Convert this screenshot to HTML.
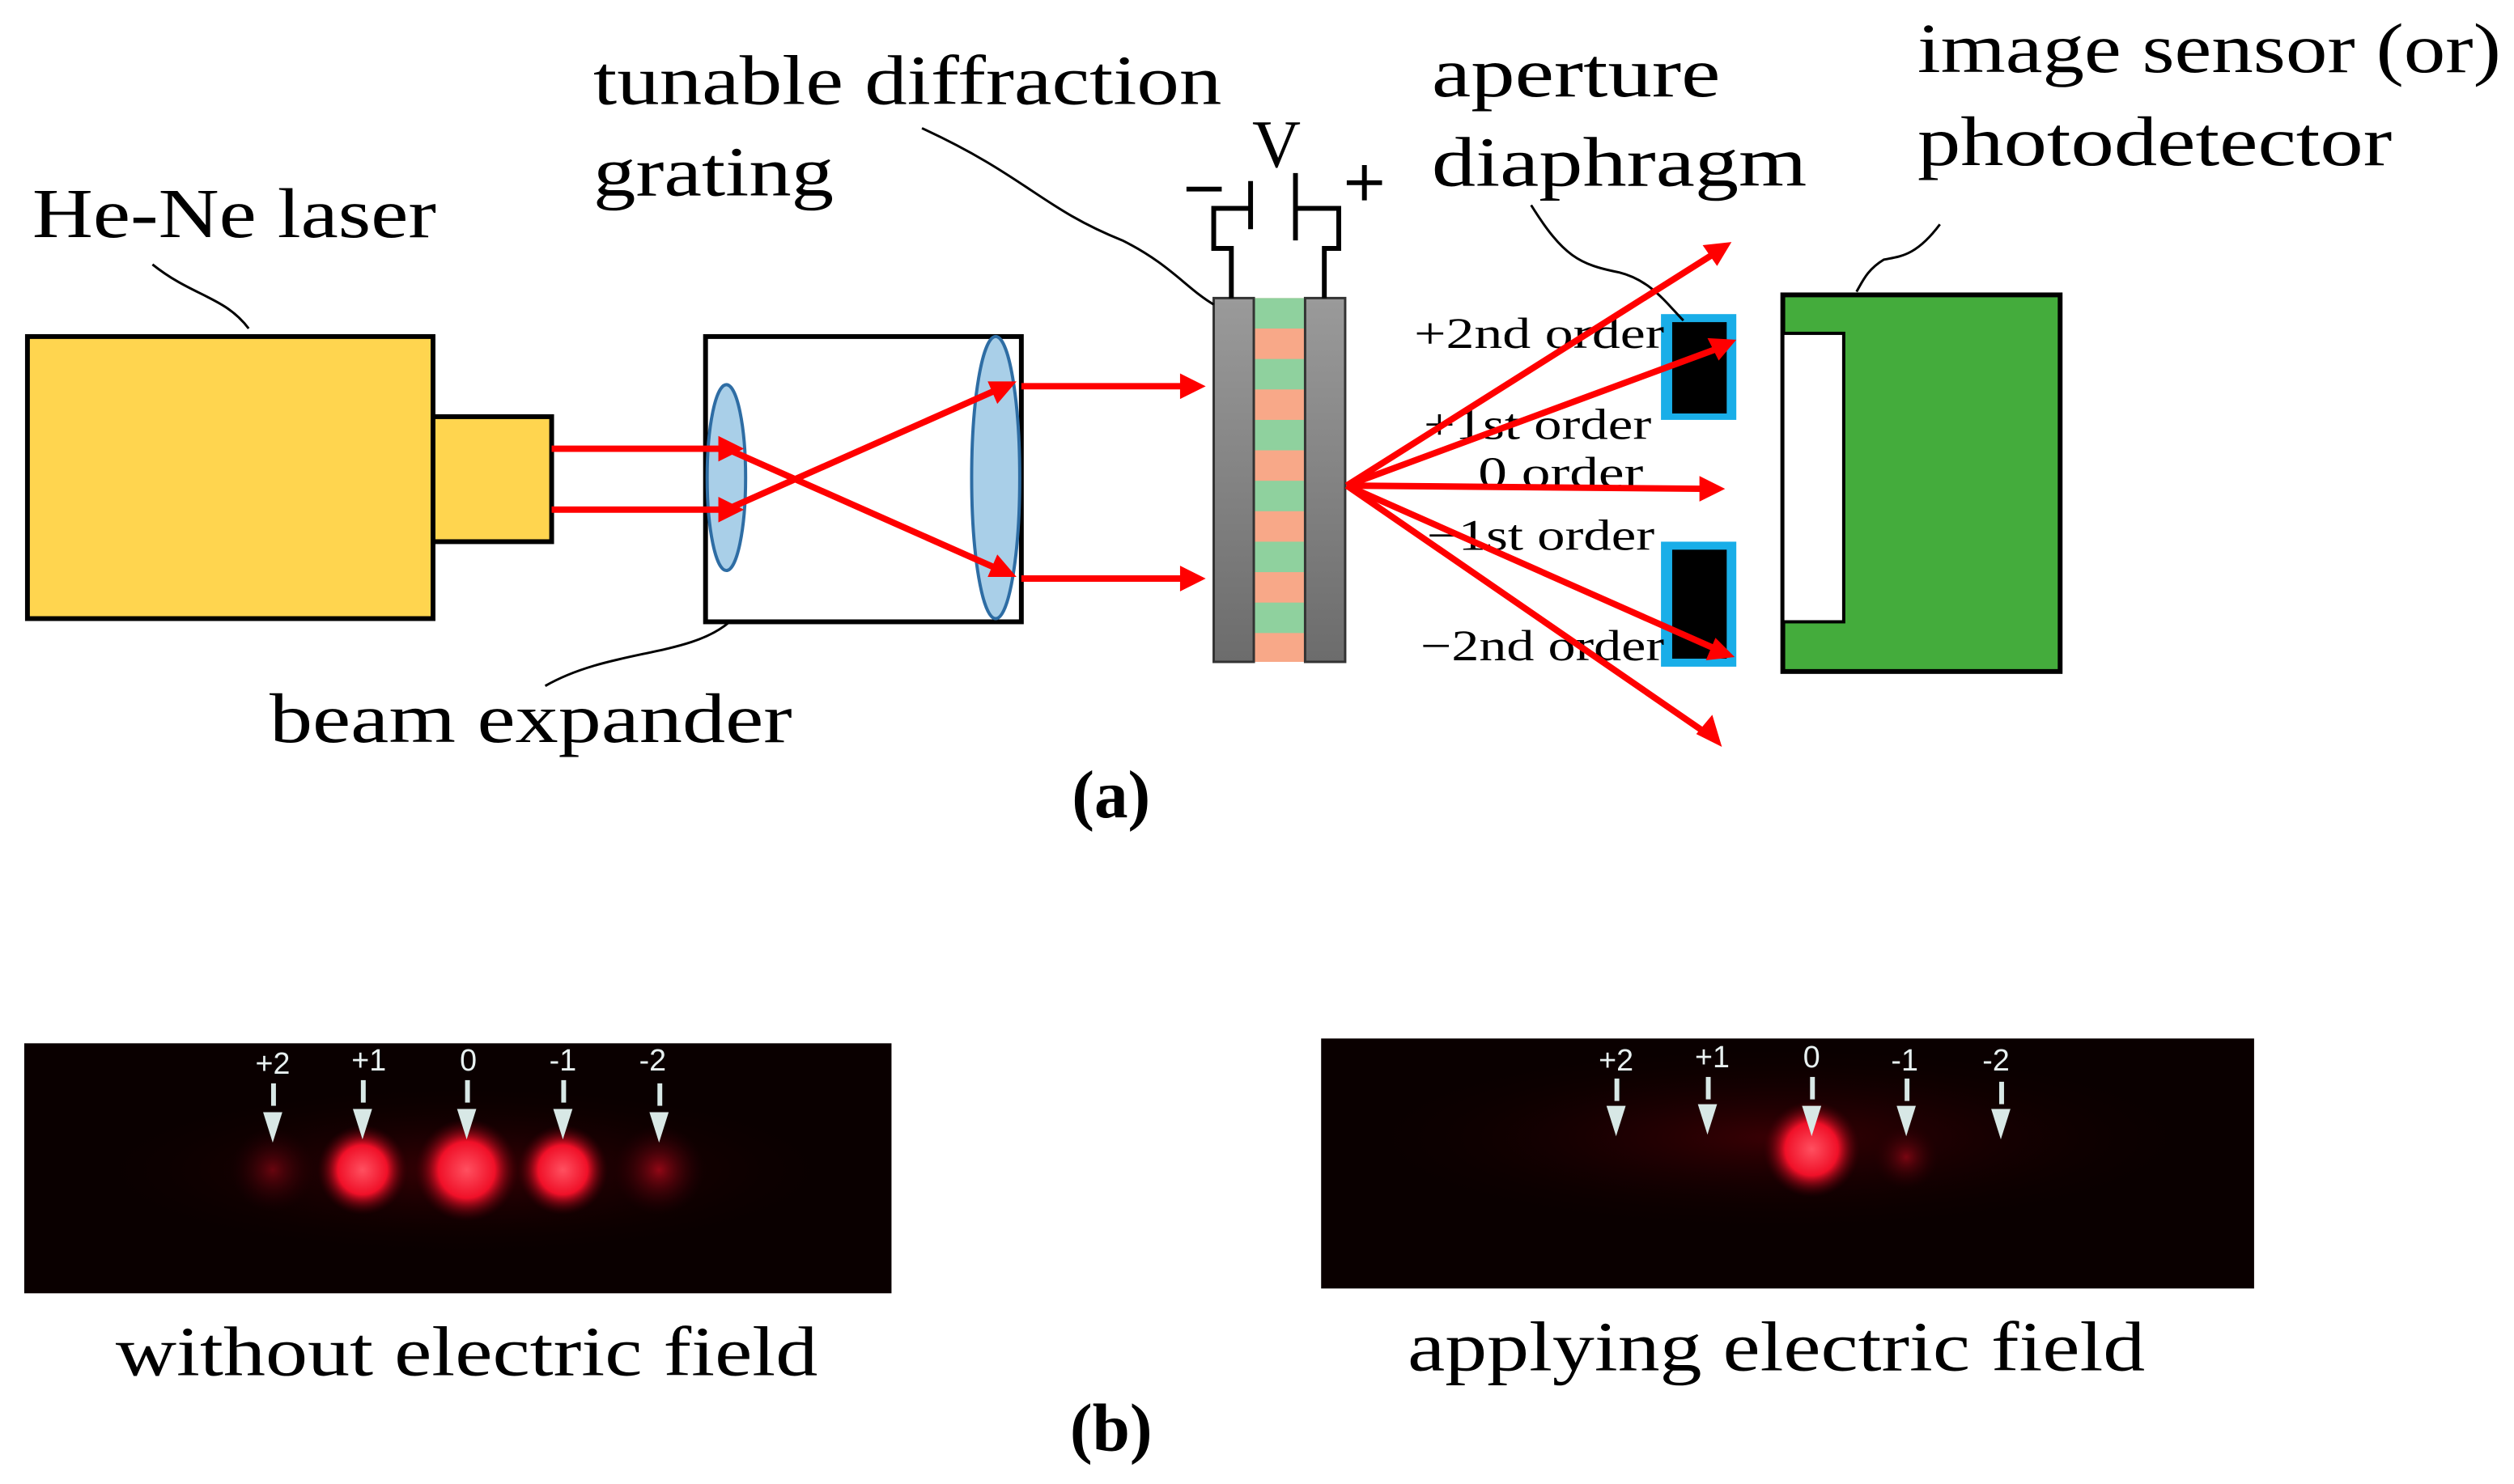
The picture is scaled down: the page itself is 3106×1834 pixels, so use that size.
<!DOCTYPE html>
<html><head><meta charset="utf-8"><style>
html,body{margin:0;padding:0;background:#fff;}
svg{display:block;}
text{font-family:"Liberation Serif",serif;fill:#000;}
.t{font-size:44px;}
.o{font-size:27px;}
.w{font-family:"Liberation Sans",sans-serif;fill:#e8f0f0;font-size:19px;}
</style></head><body>
<svg width="3106" height="1834" viewBox="0 0 1568 926" xmlns="http://www.w3.org/2000/svg">
<defs>
<linearGradient id="gr" x1="0" x2="0" y1="0" y2="1"><stop offset="0" stop-color="#9a9a9a"/><stop offset="1" stop-color="#6c6c6c"/></linearGradient>
<radialGradient id="sp"><stop offset="0" stop-color="#ff5060"/><stop offset="0.55" stop-color="#f01028"/><stop offset="1" stop-color="#500008" stop-opacity="0"/></radialGradient>
<radialGradient id="sf"><stop offset="0" stop-color="#a00818"/><stop offset="1" stop-color="#300004" stop-opacity="0"/></radialGradient>
<radialGradient id="glow"><stop offset="0" stop-color="#3a0004"/><stop offset="1" stop-color="#0a0000" stop-opacity="0"/></radialGradient>
</defs>

<!-- laser -->
<rect x="17" y="210" width="253" height="176" fill="#FFD54F" stroke="#000" stroke-width="3"/>
<rect x="270" y="260" width="74" height="78" fill="#FFD54F" stroke="#000" stroke-width="3"/>
<text class="t" x="20" y="148" textLength="252" lengthAdjust="spacingAndGlyphs">He-Ne laser</text>
<path d="M155,205 C140,185 120,185 95,165" fill="none" stroke="#000" stroke-width="1.5"/>

<!-- beam expander -->
<rect x="440" y="210" width="197" height="178" fill="#fff" stroke="#000" stroke-width="3"/>
<ellipse cx="453" cy="298" rx="12" ry="58" fill="#A9CFE8" stroke="#2E6DA4" stroke-width="2"/>
<ellipse cx="621" cy="298" rx="15" ry="88" fill="#A9CFE8" stroke="#2E6DA4" stroke-width="2"/>
<text class="t" x="168" y="463" textLength="326" lengthAdjust="spacingAndGlyphs">beam expander</text>
<path d="M455,388 C430,410 380,405 340,428" fill="none" stroke="#000" stroke-width="1.5"/>

<!-- grating -->
<g>
<rect x="782" y="186" width="32" height="227" fill="#f8a888"/>
<rect x="782" y="186" width="32" height="19" fill="#8fd19e"/>
<rect x="782" y="224" width="32" height="19" fill="#8fd19e"/>
<rect x="782" y="262" width="32" height="19" fill="#8fd19e"/>
<rect x="782" y="300" width="32" height="19" fill="#8fd19e"/>
<rect x="782" y="338" width="32" height="19" fill="#8fd19e"/>
<rect x="782" y="376" width="32" height="19" fill="#8fd19e"/>
<rect x="757" y="186" width="25" height="227" fill="url(#gr)" stroke="#333" stroke-width="1.5"/>
<rect x="814" y="186" width="25" height="227" fill="url(#gr)" stroke="#333" stroke-width="1.5"/>
</g>
<g stroke="#000" stroke-width="3" fill="none">
<polyline points="768,186 768,155 757,155 757,130 780,130"/>
<line x1="780" y1="113" x2="780" y2="143"/>
<line x1="808" y1="108" x2="808" y2="150"/>
<polyline points="808,130 835,130 835,155 826,155 826,186"/>
<line x1="740" y1="118" x2="762" y2="118"/>
<line x1="840" y1="114" x2="862" y2="114"/>
<line x1="851" y1="103" x2="851" y2="125"/>
</g>
<text x="781" y="104" style="font-size:42px">V</text>
<text class="t" x="370" y="65" textLength="392" lengthAdjust="spacingAndGlyphs">tunable diffraction</text>
<text class="t" x="370" y="122" textLength="150" lengthAdjust="spacingAndGlyphs">grating</text>
<path d="M575,80 C640,110 650,130 700,150 C730,165 740,180 757,190" fill="none" stroke="#000" stroke-width="1.5"/>

<!-- apertures -->
<rect x="1036" y="196" width="47" height="66" fill="#19aee8"/>
<rect x="1043" y="201" width="34" height="57" fill="#000"/>
<rect x="1036" y="338" width="47" height="78" fill="#19aee8"/>
<rect x="1043" y="343" width="34" height="68" fill="#000"/>
<text class="t" x="893" y="60" textLength="180" lengthAdjust="spacingAndGlyphs">aperture</text>
<text class="t" x="893" y="116" textLength="234" lengthAdjust="spacingAndGlyphs">diaphragm</text>
<path d="M955,128 C975,160 985,165 1010,170 C1030,175 1040,190 1050,200" fill="none" stroke="#000" stroke-width="1.5"/>

<text class="o" x="882" y="217" textLength="156" lengthAdjust="spacingAndGlyphs">+2nd order</text>
<text class="o" x="888" y="274" textLength="142" lengthAdjust="spacingAndGlyphs">+1st order</text>
<text class="o" x="922" y="304" textLength="103" lengthAdjust="spacingAndGlyphs">0 order</text>
<text class="o" x="890" y="343" textLength="142" lengthAdjust="spacingAndGlyphs">−1st order</text>
<text class="o" x="886" y="412" textLength="152" lengthAdjust="spacingAndGlyphs">−2nd order</text>

<!-- sensor -->
<rect x="1112" y="184" width="173" height="235" fill="#44AC3C" stroke="#000" stroke-width="3"/>
<rect x="1112" y="208" width="38" height="180" fill="#fff" stroke="#000" stroke-width="2"/>
<text class="t" x="1196" y="45" textLength="364" lengthAdjust="spacingAndGlyphs">image sensor (or)</text>
<text class="t" x="1196" y="103" textLength="296" lengthAdjust="spacingAndGlyphs">photodetector</text>
<path d="M1210,140 C1195,160 1185,160 1175,162 C1165,168 1162,175 1158,182" fill="none" stroke="#000" stroke-width="1.5"/>

<!-- rays -->
<g stroke="#f00" stroke-width="4" fill="none">
<line x1="344" y1="280" x2="450" y2="280"/>
<line x1="344" y1="318" x2="450" y2="318"/>
<line x1="453" y1="280" x2="620" y2="354"/>
<line x1="453" y1="318" x2="620" y2="244"/>
<line x1="637" y1="241" x2="738" y2="241"/>
<line x1="637" y1="361" x2="738" y2="361"/>
<line x1="840" y1="303" x2="1068" y2="159"/>
<line x1="840" y1="303" x2="1070" y2="218"/>
<line x1="840" y1="303" x2="1062" y2="305"/>
<line x1="840" y1="303" x2="1068" y2="404"/>
<line x1="840" y1="303" x2="1062" y2="456"/>
</g>
<g fill="#f00">
<polygon points="464,280 448,272 448,288"/>
<polygon points="464,318 448,310 448,326"/>
<polygon points="634,360 616,360 622,346"/>
<polygon points="634,238 616,238 622,252"/>
<polygon points="752,241 736,233 736,249"/>
<polygon points="752,361 736,353 736,369"/>
<polygon points="1080,151 1062,153 1071,166"/>
<polygon points="1083,212 1065,211 1072,225"/>
<polygon points="1076,305 1060,297 1060,313"/>
<polygon points="1082,410 1070,398 1064,412"/>
<polygon points="1074,466 1058,458 1068,446"/>
</g>

<text x="693" y="510" text-anchor="middle" style="font-size:42px;font-weight:bold">(a)</text>

<!-- photo left -->
<rect x="15" y="651" width="541" height="156" fill="#0a0000"/>
<ellipse cx="290" cy="730" rx="240" ry="55" fill="url(#glow)"/>
<circle cx="170" cy="730" r="26" fill="url(#sf)" opacity="0.6"/>
<circle cx="226" cy="730" r="28" fill="url(#sp)"/>
<circle cx="291" cy="730" r="32" fill="url(#sp)"/>
<circle cx="351" cy="730" r="28" fill="url(#sp)"/>
<circle cx="411" cy="730" r="28" fill="url(#sf)" opacity="0.9"/>
<text class="w" x="170" y="670" text-anchor="middle">+2</text>
<text class="w" x="230" y="668" text-anchor="middle">+1</text>
<text class="w" x="292" y="668" text-anchor="middle">0</text>
<text class="w" x="351" y="668" text-anchor="middle">-1</text>
<text class="w" x="407" y="668" text-anchor="middle">-2</text>
<g fill="#d8e8e6">
<rect x="169" y="676" width="3" height="14"/><polygon points="164,694 176,694 170,713"/>
<rect x="225" y="674" width="3" height="14"/><polygon points="220,692 232,692 226,711"/>
<rect x="290" y="674" width="3" height="14"/><polygon points="285,692 297,692 291,711"/>
<rect x="350" y="674" width="3" height="14"/><polygon points="345,692 357,692 351,711"/>
<rect x="410" y="676" width="3" height="14"/><polygon points="405,694 417,694 411,713"/>
</g>
<text class="t" x="72" y="858" textLength="438" lengthAdjust="spacingAndGlyphs">without electric field</text>

<!-- photo right -->
<rect x="824" y="648" width="582" height="156" fill="#0a0000"/>
<ellipse cx="1110" cy="710" rx="270" ry="60" fill="url(#glow)"/>
<circle cx="1189" cy="722" r="20" fill="url(#sf)" opacity="0.7"/>
<circle cx="1130" cy="717" r="30" fill="url(#sp)"/>
<text class="w" x="1008" y="668" text-anchor="middle">+2</text>
<text class="w" x="1068" y="666" text-anchor="middle">+1</text>
<text class="w" x="1130" y="666" text-anchor="middle">0</text>
<text class="w" x="1188" y="668" text-anchor="middle">-1</text>
<text class="w" x="1245" y="668" text-anchor="middle">-2</text>
<g fill="#d8e8e6">
<rect x="1007" y="673" width="3" height="14"/><polygon points="1002,690 1014,690 1008,709"/>
<rect x="1064" y="672" width="3" height="14"/><polygon points="1059,689 1071,689 1065,708"/>
<rect x="1129" y="672" width="3" height="14"/><polygon points="1124,690 1136,690 1130,709"/>
<rect x="1188" y="673" width="3" height="14"/><polygon points="1183,690 1195,690 1189,709"/>
<rect x="1247" y="675" width="3" height="14"/><polygon points="1242,692 1254,692 1248,711"/>
</g>
<text class="t" x="878" y="855" textLength="460" lengthAdjust="spacingAndGlyphs">applying electric field</text>

<text x="693" y="905" text-anchor="middle" style="font-size:42px;font-weight:bold">(b)</text>
</svg>
</body></html>
